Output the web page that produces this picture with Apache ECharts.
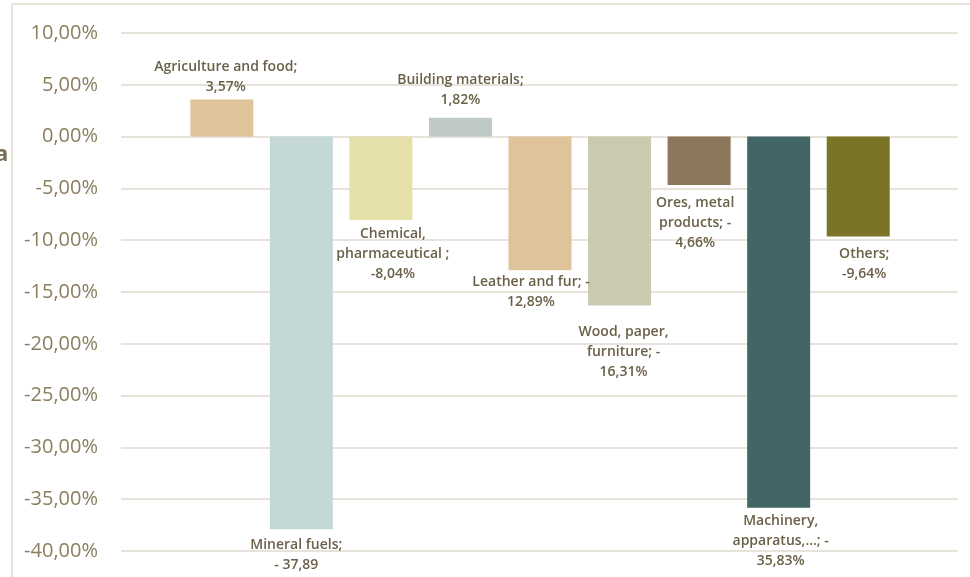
<!DOCTYPE html>
<html>
<head>
<meta charset="utf-8">
<script src="https://cdn.jsdelivr.net/npm/echarts@6/dist/echarts.min.js"></script>
<style>
  html, body { margin: 0; padding: 0; background: #fff; }
  #chart { width: 970px; height: 577px; }
</style>
</head>
<body>
<div id="chart"></div>
<script>
// data
const categories = ["Agriculture and food", "Mineral fuels", "Chemical, pharmaceutical", "Building materials",
  "Leather and fur", "Wood, paper, furniture", "Ores, metal products", "Machinery, apparatus,...", "Others"];
const values = [3.57, -37.89, -8.04, 1.82, -12.89, -16.31, -4.66, -35.83, -9.64];
const labelTexts = [
  "Agriculture and food;\n3,57%",
  "Mineral fuels;\n- 37,89",
  "Chemical,\npharmaceutical ;\n-8,04%",
  "Building materials;\n1,82%",
  "Leather and fur; -\n12,89%",
  "Wood, paper,\nfurniture; -\n16,31%",
  "Ores, metal\nproducts; -\n4,66%",
  "Machinery,\napparatus,\u2026; -\n35,83%",
  "Others;\n-9,64%"
];
const yTicks = { min: -40, max: 10, step: 5 };

// look
const barColors = ["#dfc49a", "#c4d8d8", "#e5e0a9", "#bfc9c5", "#dfc49b", "#cbc9b0", "#8c765c", "#426565", "#7a7426"];
const labelShift = [[4, -3], [-5, 6], [12, 4], [0, -8], [-9, 2], [4, 16], [-4, 8], [2, 3], [6, 8]];

const chart = echarts.init(document.getElementById("chart"));

const barData = values.map((v, i) => ({
  value: v,
  itemStyle: { color: barColors[i] },
  label: {
    show: true,
    formatter: labelTexts[i],
    position: v >= 0 ? "top" : "bottom",
    distance: 0,
    offset: labelShift[i]
  }
}));

const option = {
  animation: false,
  backgroundColor: "#fff",
  textStyle: { fontFamily: "Open Sans" },
  grid: [
    { left: 121, right: 12, top: 33, bottom: 26 },
    { left: 182, right: 72, top: 33, bottom: 26 }
  ],
  xAxis: [
    { type: "category", gridIndex: 0, data: [""], show: false },
    { type: "category", gridIndex: 1, data: categories, show: false }
  ],
  yAxis: [
    {
      type: "value", gridIndex: 0,
      min: yTicks.min, max: yTicks.max, interval: yTicks.step,
      axisLine: { show: false },
      axisTick: { show: false },
      axisLabel: {
        margin: 23,
        color: "#8b7d5e",
        fontSize: 20,
        fontFamily: "Open Sans",
        formatter: v => v.toFixed(2).replace(".", ",") + "%"
      },
      splitLine: { lineStyle: { color: "#e7e3da", width: 2 } }
    },
    {
      type: "value", gridIndex: 1,
      min: yTicks.min, max: yTicks.max, interval: yTicks.step,
      show: false,
      splitLine: { show: false }
    }
  ],
  series: [
    {
      type: "bar",
      xAxisIndex: 1,
      yAxisIndex: 1,
      barWidth: 63,
      data: barData,
      label: {
        color: "#6b6149",
        fontSize: 14,
        fontWeight: 600,
        lineHeight: 20,
        align: "center"
      }
    }
  ],
  graphic: [
    { type: "line", shape: { x1: 12, y1: 4, x2: 12, y2: 577 }, style: { stroke: "#e6e2d8", lineWidth: 2 } },
    { type: "line", shape: { x1: 12, y1: 4, x2: 970, y2: 4 }, style: { stroke: "#e6e2d8", lineWidth: 2 } },
    { type: "text", left: -5, top: 144, style: { text: "a", fill: "#7a6e52", font: "bold 22px Open Sans" } }
  ]
};

chart.setOption(option);
</script>
</body>
</html>
